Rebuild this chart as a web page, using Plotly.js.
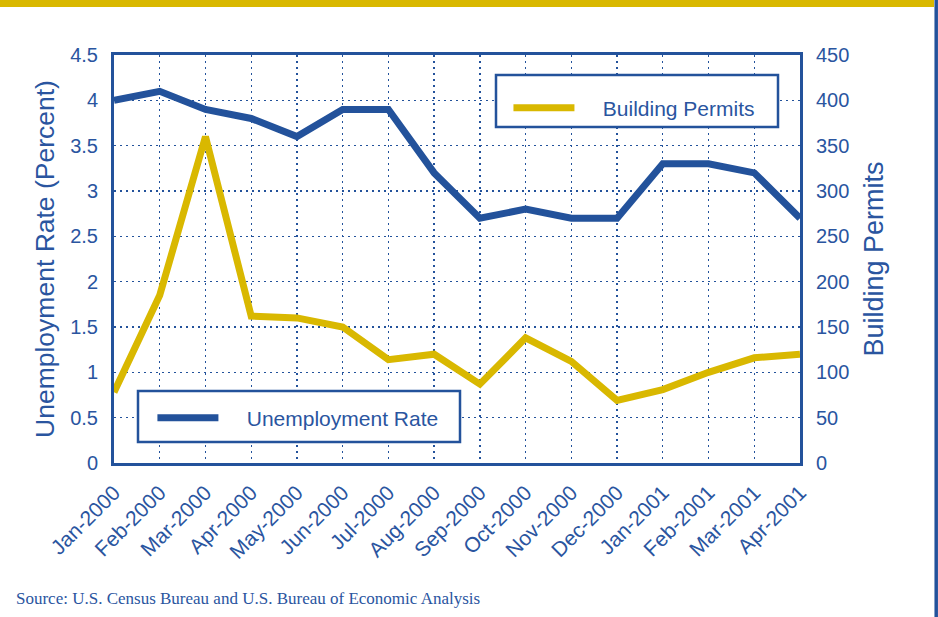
<!DOCTYPE html>
<html>
<head>
<meta charset="utf-8">
<script src="https://cdn.plot.ly/plotly-3.0.1.min.js"></script>
<style>
html,body{margin:0;padding:0;background:#fff;}
#chart{width:938px;height:617px;}
</style>
</head>
<body>
<div id="chart"></div>
<script>
const months = ["Jan-2000","Feb-2000","Mar-2000","Apr-2000","May-2000","Jun-2000","Jul-2000","Aug-2000","Sep-2000","Oct-2000","Nov-2000","Dec-2000","Jan-2001","Feb-2001","Mar-2001","Apr-2001"];
const unemploymentRate = [4.0,4.1,3.9,3.8,3.6,3.9,3.9,3.2,2.7,2.8,2.7,2.7,3.3,3.3,3.2,2.7];
const buildingPermits = [78,185,360,162,160,150,114,120,87,138,112,69,81,100,116,120];
const leftTicks = [0,0.5,1,1.5,2,2.5,3,3.5,4,4.5];
const leftTickText = ["0","0.5","1","1.5","2","2.5","3","3.5","4","4.5"];
const rightTicks = [0,50,100,150,200,250,300,350,400,450];

const BLUE = "#23529b";
const GOLD = "#d9b800";
const TXT = "#2a559f";
const FONT = "Liberation Sans, Arial, sans-serif";

const traces = [
  {x: months, y: unemploymentRate, type: "scatter", mode: "lines", name: "\u00a0\u00a0\u00a0\u00a0Unemployment Rate",
   line: {color: BLUE, width: 7}, yaxis: "y", legend: "legend2", cliponaxis: true},
  {x: months, y: buildingPermits, type: "scatter", mode: "lines", name: "\u00a0\u00a0\u00a0\u00a0Building Permits",
   line: {color: GOLD, width: 7}, yaxis: "y2", legend: "legend", cliponaxis: true}
];

const layout = {
  width: 938, height: 617,
  margin: {l: 114, r: 138, t: 55, b: 154},
  paper_bgcolor: "#fff", plot_bgcolor: "#fff",
  font: {family: FONT, color: TXT, size: 20},
  showlegend: true,
  xaxis: {
    type: "category", range: [0, 15], tickangle: -45,
    showgrid: true, gridcolor: BLUE, griddash: "2px,4px", gridwidth: 1.3,
    showline: true, linecolor: BLUE, linewidth: 3, mirror: true,
    ticks: "", tickfont: {size: 21, color: TXT, family: FONT}, zeroline: false,
    ticklabelstandoff: 6
  },
  yaxis: {
    range: [0, 4.5], tickvals: leftTicks, ticktext: leftTickText,
    showgrid: true, gridcolor: BLUE, griddash: "2px,4px", gridwidth: 1.3,
    showline: true, linecolor: BLUE, linewidth: 3, mirror: true,
    ticks: "", tickfont: {size: 20, color: TXT, family: FONT}, zeroline: false,
    ticklabelstandoff: 9,
    title: {text: "Unemployment Rate (Percent)", font: {size: 26.5, color: TXT, family: FONT}, standoff: 8}
  },
  yaxis2: {
    range: [0, 450], tickvals: rightTicks, overlaying: "y", side: "right",
    showgrid: false, showline: true, linecolor: BLUE, linewidth: 3,
    ticks: "", tickfont: {size: 20, color: TXT, family: FONT}, zeroline: false,
    ticklabelstandoff: 9,
    title: {text: "Building Permits", font: {size: 27, color: TXT, family: FONT}, standoff: 16}
  },
  legend: {
    x: 0.575, y: 0.92, xanchor: "left", yanchor: "top",
    bgcolor: "rgba(0,0,0,0)", borderwidth: 0,
    font: {size: 21, color: TXT, family: FONT}, itemwidth: 61
  },
  legend2: {
    x: 0.056, y: 0.16, xanchor: "left", yanchor: "top",
    bgcolor: "rgba(0,0,0,0)", borderwidth: 0,
    font: {size: 21, color: TXT, family: FONT}, itemwidth: 61
  },
  shapes: [
    {type: "rect", xref: "paper", yref: "paper", x0: (496-114)/686, x1: (778-114)/686,
     y0: (463-127)/408, y1: (463-75)/408, line: {color: BLUE, width: 2.5}, fillcolor: "#fff", layer: "above"},
    {type: "rect", xref: "paper", yref: "paper", x0: (138-114)/686, x1: (460-114)/686,
     y0: (463-442)/408, y1: (463-391)/408, line: {color: BLUE, width: 2.5}, fillcolor: "#fff", layer: "above"},
    {type: "rect", xref: "paper", yref: "paper", x0: -114/686, x1: (934-114)/686,
     y0: (463-7)/408, y1: 463/408 + 0.01, line: {width: 0}, fillcolor: GOLD, layer: "above"},
    {type: "line", xref: "paper", yref: "paper", x0: (936.2-114)/686, x1: (936.2-114)/686,
     y0: (463-617)/408 - 0.01, y1: 463/408 + 0.01, line: {color: BLUE, width: 3.5}, layer: "above"}
  ],
  annotations: [
    {text: "Source: U.S. Census Bureau and U.S. Bureau of Economic Analysis", xref: "paper", yref: "paper",
     x: -100/686, y: (463-598)/408, xanchor: "left", yanchor: "middle", showarrow: false,
     font: {family: "Liberation Serif, Times New Roman, serif", size: 17, color: TXT}}
  ]
};

Plotly.newPlot("chart", traces, layout, {displayModeBar: false, staticPlot: true});
</script>
</body>
</html>
